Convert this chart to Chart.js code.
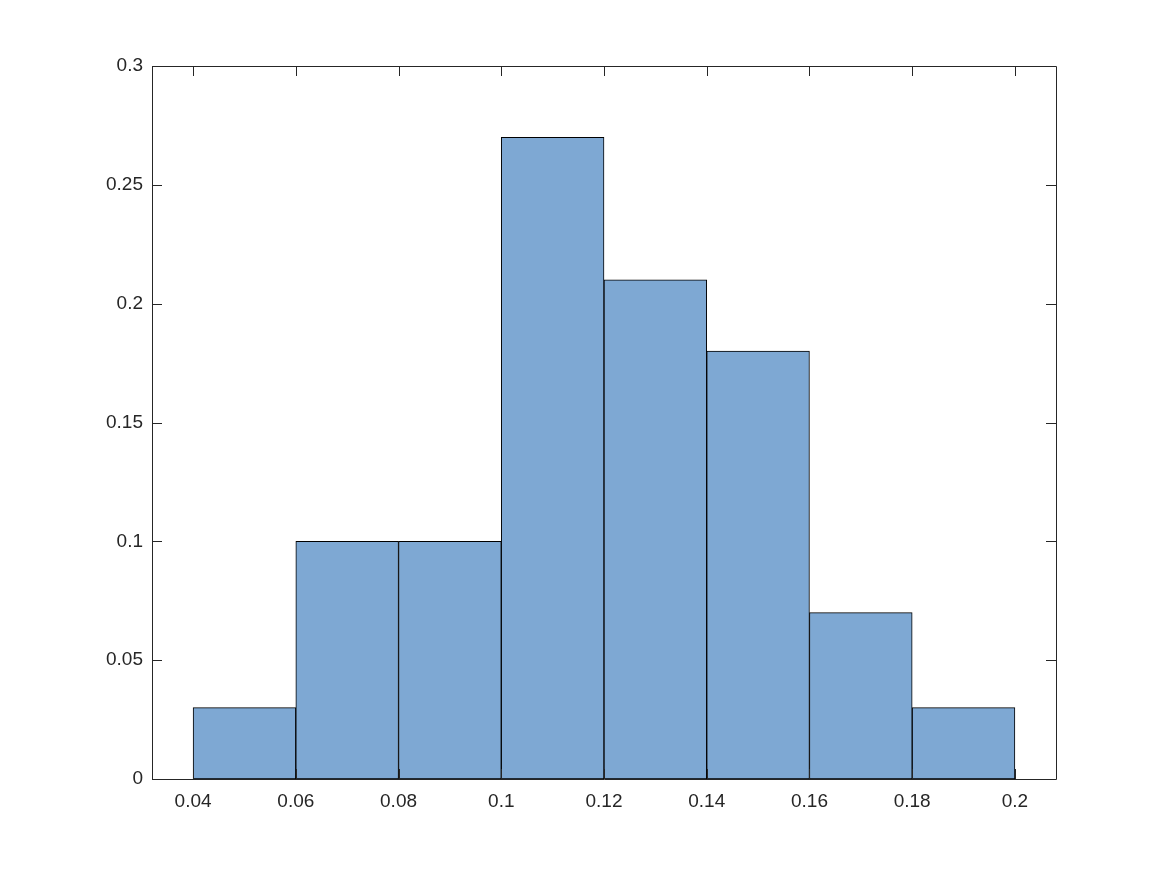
<!DOCTYPE html>
<html>
<head>
<meta charset="utf-8">
<script src="https://cdn.jsdelivr.net/npm/chart.js@4/dist/chart.umd.min.js"></script>
<style>
  html, body { margin: 0; padding: 0; background: #fff; }
  #wrap { width: 1166px; height: 875px; }
</style>
</head>
<body>
<div id="wrap"><canvas id="myChart"></canvas></div>
<script>
// histogram bins (edges 0.04 .. 0.2, width 0.02)
const binCenters = [0.05, 0.07, 0.09, 0.11, 0.13, 0.15, 0.17, 0.19];
const binValues = [0.03, 0.10, 0.10, 0.27, 0.21, 0.18, 0.07, 0.03];
const xTicks = [0.04, 0.06, 0.08, 0.1, 0.12, 0.14, 0.16, 0.18, 0.2];
const yTicks = [0, 0.05, 0.1, 0.15, 0.2, 0.25, 0.3];

const axisColor = '#262626';

function fmt(v) {
  return String(Math.round(v * 1000) / 1000);
}

// matlab style box with ticks pointing inwards
const boxPlugin = {
  id: 'box',
  afterDatasetsDraw(chart) {
    const ctx = chart.ctx;
    const a = chart.chartArea;
    const xs = chart.scales.x, ys = chart.scales.y;
    const len = 10;
    ctx.save();
    ctx.strokeStyle = axisColor;
    ctx.lineWidth = 1;
    ctx.beginPath();
    ctx.rect(a.left + 0.5, a.top + 0.5, a.right - a.left, a.bottom - a.top);
    xTicks.forEach(v => {
      const px = Math.round(xs.getPixelForValue(v)) + 0.5;
      ctx.moveTo(px, a.bottom);
      ctx.lineTo(px, a.bottom - len);
      ctx.moveTo(px, a.top);
      ctx.lineTo(px, a.top + len);
    });
    yTicks.forEach(v => {
      const py = Math.round(ys.getPixelForValue(v)) + 0.5;
      ctx.moveTo(a.left, py);
      ctx.lineTo(a.left + len, py);
      ctx.moveTo(a.right, py);
      ctx.lineTo(a.right - len, py);
    });
    ctx.stroke();
    ctx.restore();
  }
};

const myChart = new Chart(document.getElementById('myChart'), {
  type: 'bar',
  data: {
    datasets: [{
      data: binCenters.map((c, i) => ({ x: c, y: binValues[i] })),
      backgroundColor: '#7ea8d3',
      borderColor: '#000000',
      borderWidth: 1,
      borderSkipped: false,
      barPercentage: 1,
      categoryPercentage: 1
    }]
  },
  options: {
    responsive: true,
    maintainAspectRatio: false,
    animation: false,
    layout: { padding: { top: 66, right: 110, left: 0, bottom: 0 } },
    plugins: {
      legend: { display: false },
      tooltip: { enabled: false }
    },
    scales: {
      x: {
        type: 'linear',
        offset: false,
        min: 0.032,
        max: 0.208,
        grid: { display: false, drawTicks: false, offset: false },
        border: { display: false },
        afterBuildTicks: s => { s.ticks = xTicks.map(v => ({ value: v })); },
        afterFit: s => { s.height = 96; },
        ticks: {
          autoSkip: false,
          maxRotation: 0,
          padding: 11,
          color: axisColor,
          font: { family: "'Liberation Sans', Arial, sans-serif", size: 19 },
          callback: v => fmt(v)
        }
      },
      y: {
        min: 0,
        max: 0.3,
        grid: { display: false, drawTicks: false },
        border: { display: false },
        afterBuildTicks: s => { s.ticks = yTicks.map(v => ({ value: v })); },
        afterFit: s => { s.width = 152; },
        ticks: {
          padding: 9,
          color: axisColor,
          font: { family: "'Liberation Sans', Arial, sans-serif", size: 19 },
          callback: v => fmt(v)
        }
      }
    }
  },
  plugins: [boxPlugin]
});
</script>
</body>
</html>
